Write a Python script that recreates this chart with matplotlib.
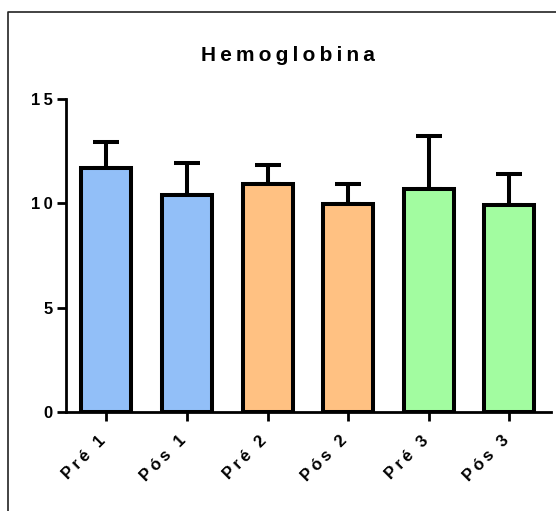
import matplotlib
matplotlib.use("Agg")
import matplotlib.pyplot as plt
from matplotlib.lines import Line2D
from matplotlib.transforms import ScaledTranslation

# Hemoglobin means and SD (upper error only)
categories = ["Pré 1", "Pós 1", "Pré 2", "Pós 2", "Pré 3", "Pós 3"]
means = [11.7, 10.4, 10.95, 9.97, 10.7, 9.9]
sds = [1.25, 1.52, 0.87, 0.95, 2.55, 1.53]
colors = ["#92BFF8", "#92BFF8", "#FFC182", "#FFC182", "#A2FCA0", "#A2FCA0"]
yticks = [0, 5, 10, 15]
title = "Hemoglobina"

SP = "\u2009"  # letter-spacing character


def spaced(s):
    return SP.join(s)


plt.rcParams["font.family"] = ["Liberation Sans", "DejaVu Sans"]
plt.rcParams["font.weight"] = "bold"

fig = plt.figure(figsize=(5.56, 5.11), dpi=100)
ax = fig.add_axes([0.1187, 0.1937, 0.873, 0.6125])

x = list(range(len(categories)))
ax.errorbar(x, means, yerr=[[0] * len(sds), sds], fmt="none", ecolor="black",
            elinewidth=2.9, capsize=9.6, capthick=2.9, zorder=2)
ax.bar(x, means, width=0.62, color=colors, edgecolor="black", linewidth=2.9,
       zorder=3)

ax.set_xlim(-0.5, 5.52)
ax.set_ylim(0, 15)
ax.set_yticks(yticks)
ax.set_yticklabels([spaced(str(t)) for t in yticks], fontsize=12, fontweight="bold")
ax.set_xticks(x)
ax.set_xticklabels([])

# rotated category labels, anchored below each tick
lbl_tf = ax.get_xaxis_transform() + ScaledTranslation(-2.2 / 72, -19.0 / 72,
                                                      fig.dpi_scale_trans)
for xi, cat in zip(x, categories):
    ax.text(xi, 0, spaced(cat), transform=lbl_tf, rotation=45, ha="right",
            va="center", rotation_mode="anchor", fontsize=12,
            fontweight="bold", clip_on=False)

for side in ("top", "right"):
    ax.spines[side].set_visible(False)
for side in ("left", "bottom"):
    ax.spines[side].set_linewidth(2.0)
ax.tick_params(axis="both", width=2.0, length=6.5, color="black")
ax.tick_params(axis="y", pad=3)

fig.text(0.518, 0.892, spaced(title), ha="center", va="center",
         fontsize=15, fontweight="bold")

# outer frame (left and top edges)
W, H = 556, 511
frame = Line2D([8 / W, 8 / W, 1.01], [-0.01, 1 - 12 / H, 1 - 12 / H],
               transform=fig.transFigure, color="#222222", linewidth=1.2)
fig.add_artist(frame)

fig.savefig("out.png", dpi=100)
